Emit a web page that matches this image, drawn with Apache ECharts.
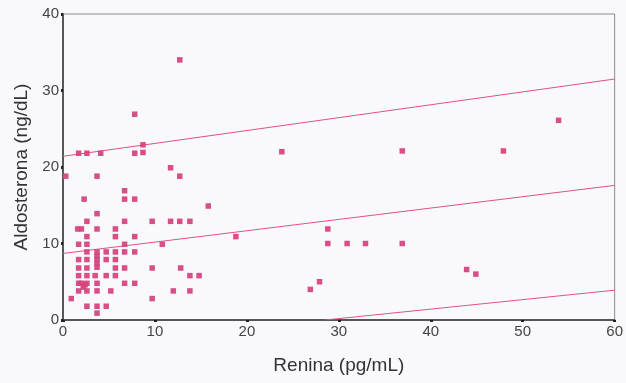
<!DOCTYPE html>
<html>
<head>
<meta charset="utf-8">
<script src="https://cdn.jsdelivr.net/npm/echarts@6/dist/echarts.min.js"></script>
<style>
html,body{margin:0;padding:0;background:#f9f9fc;}
#c{width:626px;height:383px;}
</style>
</head>
<body>
<div id="c"></div>
<script>
// Renina (pg/mL), Aldosterona (ng/dL) points
const reninaValues = [
  12.7, 7.8, 53.9, 8.7, 1.7, 2.6, 4.1, 7.8, 8.7, 23.8, 36.9, 47.9,
  11.7, 0.3, 3.7, 12.7, 6.7, 2.3, 6.7, 7.8, 15.8, 3.7,
  2.6, 6.7, 9.7, 11.7, 12.7, 13.8,
  1.6, 2.0, 3.7, 5.7, 28.8,
  2.6, 5.7, 7.8, 18.8,
  1.7, 2.6, 6.7, 10.8, 28.8, 30.9, 32.9, 36.9,
  2.6, 3.7, 4.7, 5.7, 6.7, 7.8,
  3.7, 3.7, 3.7, 3.7,
  1.7, 2.6, 4.7, 5.7,
  1.7, 2.6, 5.7, 6.7, 9.7, 12.8,
  1.7, 2.6, 3.5, 4.7, 5.7, 13.8, 14.8,
  1.7, 2.0, 2.6, 3.7, 6.7, 7.8, 2.2, 2.4,
  1.7, 2.6, 3.7, 5.2, 12.0, 13.8,
  0.9, 9.7,
  2.6, 3.7, 4.7,
  3.7,
  26.9, 27.9, 43.9, 44.9
];
const aldosteronaValues = [
  34.0, 26.9, 26.1, 22.9, 21.8, 21.8, 21.8, 21.8, 21.9, 22.0, 22.1, 22.1,
  19.9, 18.8, 18.8, 18.8, 16.9, 15.8, 15.8, 15.8, 14.9, 13.9,
  12.9, 12.9, 12.9, 12.9, 12.9, 12.9,
  11.9, 11.9, 11.9, 11.9, 11.9,
  10.9, 10.9, 10.9, 10.9,
  9.9, 9.9, 9.9, 9.9, 10.0, 10.0, 10.0, 10.0,
  8.9, 8.9, 8.9, 8.9, 8.9, 8.9,
  8.4, 7.9, 7.4, 6.9,
  7.9, 7.9, 7.9, 7.9,
  6.8, 6.8, 6.8, 6.8, 6.8, 6.8,
  5.8, 5.8, 5.8, 5.8, 5.8, 5.8, 5.8,
  4.8, 4.8, 4.8, 4.8, 4.8, 4.8, 4.3, 4.6,
  3.8, 3.8, 3.8, 3.8, 3.8, 3.8,
  2.8, 2.8,
  1.8, 1.8, 1.8,
  0.9,
  4.0, 5.0, 6.6, 6.0
];
// Regression line and prediction band endpoints
const fitX = [0, 60];
const fitY = [8.7, 17.6];
const upperX = [0, 60];
const upperY = [21.4, 31.5];
const lowerX = [28.5, 60];
const lowerY = [0, 3.9];
const xTicks = [0, 10, 20, 30, 40, 50, 60];
const yTicks = [0, 10, 20, 30, 40];

const pts = reninaValues.map((v, i) => [v, aldosteronaValues[i]]);
const pair = (xs, ys) => xs.map((v, i) => [v, ys[i]]);

const chart = echarts.init(document.getElementById('c'));
const lineCol = '#e0508a';
const FONT = '"Liberation Sans", Arial, sans-serif';
const lineSeries = (d) => ({
  type: 'line', data: d, symbol: 'none', silent: true,
  lineStyle: {color: lineCol, width: 1}, z: 2
});
chart.setOption({
  backgroundColor: '#f9f9fc',
  animation: false,
  grid: {left: 63, right: 7, top: 14, bottom: 63, show: true,
         borderColor: '#8a8a8a', borderWidth: 1, backgroundColor: 'transparent'},
  xAxis: {
    type: 'value', min: 0, max: 60, interval: 10,
    name: 'Renina (pg/mL)', nameLocation: 'middle', nameGap: 36,
    nameTextStyle: {fontFamily: FONT, fontSize: 19, color: '#333'},
    axisLine: {show: true, onZero: false, lineStyle: {color: '#333', width: 1.5}},
    axisTick: {show: true, inside: false, length: 2, lineStyle: {color: '#222', width: 3}},
    axisLabel: {fontFamily: FONT, fontSize: 15, color: '#444', margin: 4,
                formatter: v => xTicks.includes(v) ? String(v) : ''},
    splitLine: {show: false}
  },
  yAxis: {
    type: 'value', min: 0, max: 40, interval: 10,
    name: 'Aldosterona (ng/dL)', nameLocation: 'middle', nameGap: 30,
    nameTextStyle: {fontFamily: FONT, fontSize: 19, color: '#333'},
    axisLine: {show: true, onZero: false, lineStyle: {color: '#333', width: 1.5}},
    axisTick: {show: true, inside: false, length: 2, lineStyle: {color: '#222', width: 3}},
    axisLabel: {fontFamily: FONT, fontSize: 15, color: '#444', margin: 4,
                formatter: v => yTicks.includes(v) ? String(v) : ''},
    splitLine: {show: false}
  },
  series: [
    lineSeries(pair(upperX, upperY)),
    lineSeries(pair(fitX, fitY)),
    lineSeries(pair(lowerX, lowerY)),
    {
      type: 'scatter', data: pts, symbol: 'rect', symbolSize: 5.5,
      itemStyle: {color: '#d6447f', opacity: 0.95}, z: 3
    }
  ]
});
</script>
</body>
</html>
